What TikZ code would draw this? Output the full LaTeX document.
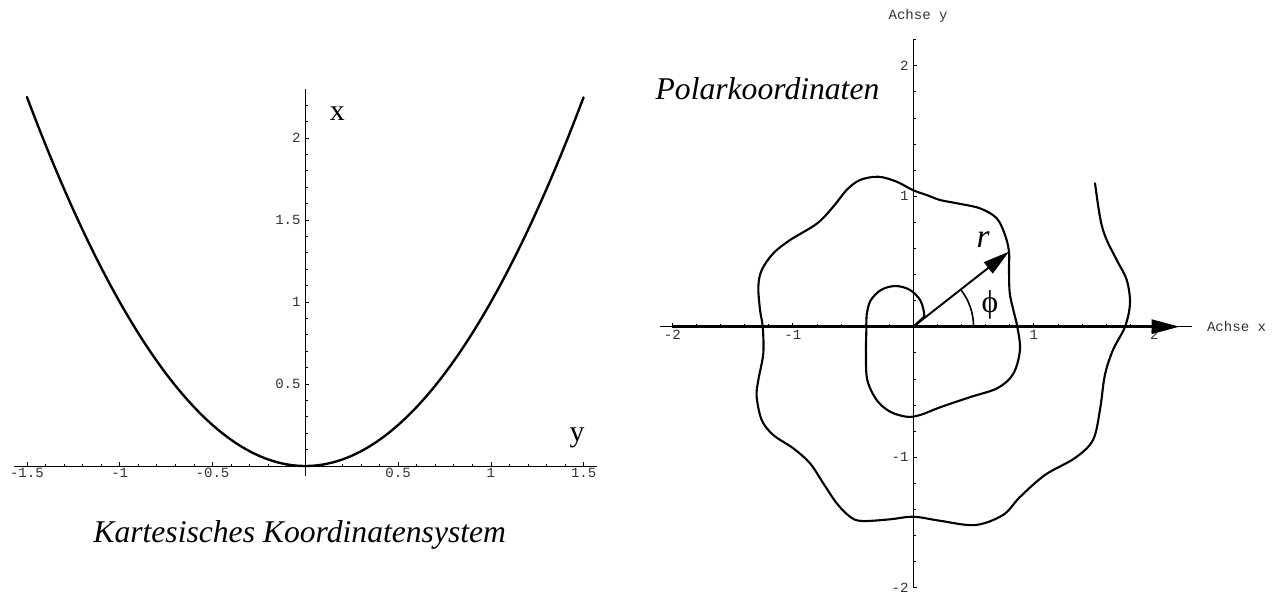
\documentclass[tikz,border=0pt]{standalone}
\usepackage{fontspec}
\setmainfont{Liberation Serif}
\setmonofont{Liberation Mono}
\usetikzlibrary{arrows.meta,positioning}

\begin{document}
\begin{tikzpicture}[
  axis/.style={line width=0.45pt},
  tick/.style={line width=0.45pt},
  curve/.style={line width=1.2pt, line join=round, line cap=round},
  ticklab/.style={font=\fontsize{8}{9}\selectfont\ttfamily, text=black!80, inner sep=1pt},
  axlab/.style={font=\fontsize{17}{19}\selectfont, inner sep=0pt},
  heading/.style={font=\fontsize{18}{21}\selectfont\itshape, inner sep=0pt},
  vecline/.style={line width=1.1pt, -{Triangle[length=15pt,width=8pt]}},
  xline/.style={line width=1.7pt, -{Triangle[length=16pt,width=8pt]}}
]
  \useasboundingbox (0,0) rectangle (25.64,11.86);

  % Kartesisches Koordinatensystem
  \begin{scope}[shift={(6.106cm,2.54cm)}, x=3.712cm, y=3.28cm]
    \draw[axis] (-1.57,0) -- (1.57,0);
    \draw[axis] (0,-0.06) -- (0,2.3);
    \foreach \i in {-15,...,15}
      \draw[tick] (\i/10,0) -- ++(0,1.4pt);
    \foreach \i in {-3,...,3}
      \draw[tick] (\i/2,0) -- ++(0,2.3pt);
    \foreach \i in {1,...,22}
      \draw[tick] (0,\i/10) -- ++(1.4pt,0);
    \foreach \i in {1,...,4}
      \draw[tick] (0,\i/2) -- ++(2.3pt,0);
    \foreach \v [count=\k] in {-1.5,-1,-0.5,0.5,1,1.5}
      \node[ticklab, below] (cx\k) at (\v,0) {\v};
    \foreach \v [count=\k] in {0.5,1,1.5,2}
      \node[ticklab, left, xshift=-1.5pt] (cy\k) at (0,\v) {\v};

    \draw[curve, line width=1.35pt] plot[domain=-1.5:1.5, samples=61, smooth] (\x,{\x*\x});

    \node[axlab] (xname) at (0.172,2.15) {x};
    \node[axlab] (yname) at (1.464,0.17) {y};
    \node[heading] (ktitle) at (-0.03,-0.42) {Kartesisches Koordinatensystem};
  \end{scope}

  % Polarkoordinaten
  \begin{scope}[shift={(18.266cm,5.326cm)}, x=2.41cm, y=2.61cm]
    \draw[axis] (-2.1,0) -- (2.31,0);
    \draw[axis] (0,-2) -- (0,2.2);
    \foreach \i in {-10,...,10}
      \draw[tick] (\i/5,0) -- ++(0,1.4pt);
    \foreach \i in {-2,...,2}
      \draw[tick] (\i,0) -- ++(0,2.3pt);
    \foreach \i in {-10,...,11}
      \draw[tick] (0,\i/5) -- ++(1.4pt,0);
    \foreach \i in {-2,...,2}
      \draw[tick] (0,\i) -- ++(2.3pt,0);
    \foreach \v [count=\k] in {-2,-1,1,2}
      \node[ticklab, below, yshift=-1pt] (px\k) at (\v,0) {\v};
    \foreach \v [count=\k] in {-2,-1,1,2}
      \node[ticklab, left, xshift=-1.5pt] (py\k) at (0,\v) {\v};
    \node[ticklab, anchor=west] (achsex) at (2.42,0) {Achse x};
    \node[ticklab] (achsey) at (0.04,2.38) {Achse y};

    % Spirale
    \draw[curve] plot[smooth, tension=0.55] coordinates {
      (0,0) (0.07,0.06) (0.091,0.091) (0.059,0.2) (-0.028,0.282)
      (-0.148,0.312) (-0.267,0.282) (-0.355,0.2) (-0.387,0.091) (-0.389,0)
      (-0.393,-0.204) (-0.382,-0.408) (-0.304,-0.562) (-0.193,-0.651)
      (-0.055,-0.69) (0.056,-0.677) (0.221,-0.618) (0.47,-0.54) (0.70,-0.47)
      (0.83,-0.36) (0.885,-0.178) (0.863,0) (0.83,0.128) (0.80,0.26)
      (0.794,0.434) (0.794,0.575) (0.761,0.703) (0.692,0.831) (0.553,0.907)
      (0.36,0.946) (0.221,0.971) (0.111,1.009) (0,1.045) (-0.138,1.111)
      (-0.29,1.149) (-0.442,1.124) (-0.553,1.048) (-0.664,0.92) (-0.80,0.79)
      (-1.023,0.664) (-1.162,0.562) (-1.258,0.434) (-1.286,0.306)
      (-1.272,0.128) (-1.25,0) (-1.245,-0.204) (-1.286,-0.408) (-1.30,-0.536)
      (-1.258,-0.715) (-1.162,-0.83) (-0.996,-0.932) (-0.857,-1.047)
      (-0.747,-1.2) (-0.636,-1.353) (-0.525,-1.456) (-0.428,-1.489)
      (-0.193,-1.476) (0,-1.456) (0.221,-1.487) (0.512,-1.52) (0.744,-1.443)
      (0.885,-1.305) (1.093,-1.136) (1.342,-1.006) (1.491,-0.868)
      (1.549,-0.638) (1.59,-0.37) (1.657,-0.178) (1.757,0) (1.798,0.179)
      (1.771,0.358) (1.688,0.511) (1.605,0.664) (1.563,0.779) (1.535,0.92)
      (1.508,1.099)};

    \coordinate (O) at (0,0);
    \coordinate (R) at (0.794,0.575);
    \coordinate (xs) at (-2,0);
    \coordinate (xe) at (2.21,0);
    \draw[xline] (xs) -- (xe);
    \draw[vecline] (O) -- (R);
    \draw[line width=0.9pt] (0.5,0) arc[start angle=0, end angle=38, x radius=0.5, y radius=0.462];

    \node[font=\fontsize{19}{21}\selectfont\itshape] (rname) at (0.58,0.665) {r};
    \node[font=\fontsize{18}{20}\selectfont] (phiname) at (0.636,0.166) {ϕ};
    \node[heading] (ptitle) at (-1.21,1.82) {Polarkoordinaten};
  \end{scope}
\end{tikzpicture}
\end{document}
